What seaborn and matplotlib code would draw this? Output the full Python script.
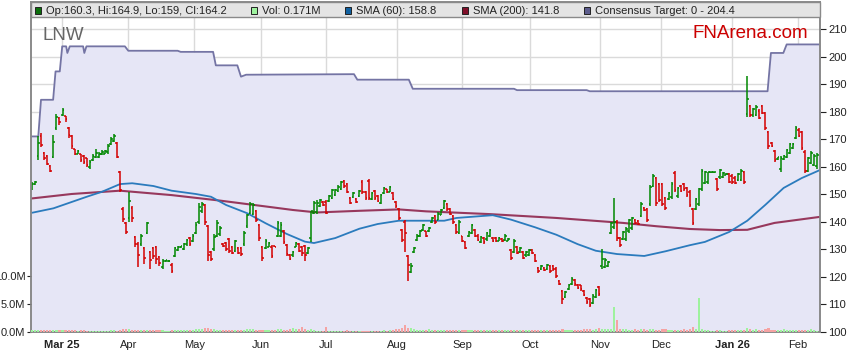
import numpy as np
import matplotlib
matplotlib.use("Agg")
import matplotlib.pyplot as plt
from matplotlib.patches import Rectangle
import seaborn as sns

# daily OHLC bars (price)
opens = [152.0, 153.6, 164.0, 171.0, 165.0, 163.8, 160.2, 163.5, 174.0, 177.8,
         178.8, 178.3, 174.0, 171.0, 166.3, 164.8, 164.5, 163.8, 163.0, 159.8,
         162.4, 163.5, 163.4, 164.5, 164.8, 165.2, 168.2, 169.5, 168.7, 158.0,
         144.8, 139.5, 141.5, 145.0, 134.5, 132.0, 132.0, 130.5, 136.0, 129.0,
         130.5, 131.0, 127.4, 123.5, 125.6, 125.7, 124.5, 127.5, 129.8, 130.7,
         130.2, 131.8, 134.0, 133.0, 136.0, 140.0, 143.8, 146.0, 138.5, 129.0,
         130.0, 135.0, 135.5, 132.0, 132.3, 133.8, 131.0, 129.5, 130.5, 130.6,
         131.8, 138.3, 143.3, 143.0, 144.0, 139.0, 131.0, 130.5, 131.0, 131.0,
         131.1, 135.0, 135.0, 136.8, 131.6, 128.0, 127.8, 131.0, 131.8, 131.0,
         131.2, 128.8, 134.0, 143.3, 143.5, 145.8, 147.2, 147.3, 147.5, 148.8,
         149.6, 151.2, 152.0, 154.8, 153.8, 148.7, 148.9, 148.3, 149.4, 154.5,
         150.8, 154.8, 148.2, 151.3, 149.3, 147.0, 150.5, 151.8, 151.0, 150.5,
         147.2, 144.8, 137.0, 140.0, 127.5, 121.8, 129.0, 133.3, 135.0, 137.0,
         136.5, 136.5, 139.8, 142.0, 140.8, 142.6, 145.0, 146.5, 144.8, 142.0,
         139.0, 136.0, 134.8, 132.8, 134.7, 136.0, 137.0, 135.0, 132.6, 134.0,
         133.6, 135.0, 134.3, 134.0, 133.2, 133.9, 133.3, 133.2, 129.8, 129.2,
         131.0, 129.0, 129.0, 127.8, 128.0, 129.8, 128.0, 123.2, 122.8, 123.4,
         122.8, 124.0, 124.0, 123.0, 118.5, 115.0, 112.8, 115.5, 117.6, 119.0,
         117.2, 117.0, 115.0, 112.5, 112.0, 110.5, 112.8, 116.5, 124.0, 123.6,
         124.0, 136.0, 138.0, 139.8, 134.3, 133.8, 133.8, 136.5, 137.6, 140.8,
         140.3, 142.2, 145.1, 144.8, 146.5, 153.0, 155.8, 153.6, 153.6, 148.6,
         148.4, 149.0, 157.8, 149.2, 153.0, 153.8, 152.3, 151.0, 144.6, 144.8,
         146.5, 152.0, 154.2, 154.3, 158.0, 158.0, 155.6, 156.2, 156.3, 157.0,
         157.4, 156.8, 156.0, 155.2, 155.3, 158.0, 179.0, 182.0, 178.6, 178.8,
         180.4, 182.0, 179.6, 172.5, 168.7, 165.8, 162.8, 159.0, 162.9, 163.5,
         165.0, 166.9, 170.4, 173.5, 172.5, 165.5, 158.6, 161.3, 160.6, 160.3]
highs = [154.4, 154.8, 171.1, 172.1, 165.4, 164.2, 160.5, 171.5, 179.1, 178.1,
         181.4, 178.5, 174.5, 171.5, 166.6, 166.0, 164.8, 164.2, 163.3, 162.3,
         164.8, 166.6, 165.4, 166.0, 166.0, 168.4, 170.8, 171.8, 169.0, 158.5,
         145.3, 139.9, 150.8, 145.6, 135.0, 132.6, 135.6, 131.0, 139.9, 129.5,
         130.8, 131.4, 127.7, 126.5, 126.2, 126.2, 124.9, 131.0, 131.4, 131.4,
         132.2, 133.8, 134.4, 135.6, 139.9, 146.8, 147.2, 146.6, 139.0, 129.5,
         135.4, 140.5, 138.3, 132.2, 132.6, 134.2, 131.4, 133.4, 130.8, 131.0,
         136.6, 142.9, 147.2, 146.8, 144.4, 139.3, 131.4, 133.8, 132.6, 131.7,
         131.2, 140.2, 139.9, 137.1, 132.0, 128.3, 129.5, 132.6, 132.2, 131.4,
         131.7, 130.8, 144.1, 147.5, 147.8, 148.4, 147.5, 147.8, 149.6, 152.0,
         152.0, 153.2, 154.8, 155.1, 154.1, 149.0, 150.8, 148.6, 151.7, 155.1,
         151.2, 155.7, 150.8, 151.7, 149.6, 150.2, 152.6, 152.0, 152.9, 150.8,
         147.5, 145.1, 137.4, 140.7, 128.1, 124.9, 131.0, 135.4, 137.1, 139.3,
         136.8, 138.0, 141.7, 142.3, 143.5, 144.7, 148.0, 146.8, 145.1, 142.3,
         139.3, 140.7, 135.0, 133.0, 136.6, 139.3, 137.4, 135.4, 135.0, 134.4,
         136.2, 137.4, 134.6, 134.4, 134.4, 134.2, 135.4, 134.2, 130.1, 133.8,
         131.4, 131.0, 129.3, 129.5, 130.1, 130.1, 128.3, 123.5, 124.4, 123.7,
         124.7, 124.4, 124.4, 123.5, 118.8, 115.2, 115.0, 117.6, 119.8, 119.2,
         117.4, 117.2, 115.2, 112.8, 112.5, 113.7, 115.6, 116.8, 130.1, 126.9,
         125.7, 139.9, 148.7, 140.5, 134.6, 136.8, 138.0, 141.1, 141.9, 141.1,
         140.7, 147.2, 145.3, 145.1, 153.2, 157.2, 156.3, 154.1, 154.1, 149.0,
         150.8, 154.4, 158.5, 152.6, 153.2, 154.1, 152.6, 151.4, 145.1, 148.7,
         152.4, 159.3, 158.5, 158.1, 158.2, 158.2, 156.0, 159.3, 158.1, 157.7,
         157.7, 157.2, 156.5, 157.7, 159.3, 158.5, 193.0, 182.4, 181.5, 182.4,
         180.8, 182.4, 180.0, 173.0, 169.0, 166.2, 163.6, 163.8, 164.2, 166.6,
         168.7, 168.7, 174.7, 173.9, 173.0, 166.0, 163.6, 165.7, 164.8, 164.9]
lows = [151.4, 153.2, 162.3, 167.2, 162.3, 160.5, 158.1, 163.0, 173.5, 175.1,
        178.4, 176.3, 170.5, 166.6, 164.2, 164.5, 161.7, 161.1, 159.9, 159.1,
        162.1, 163.0, 163.0, 164.2, 164.5, 164.8, 167.8, 169.0, 163.0, 150.8,
        139.9, 135.6, 139.9, 139.9, 130.8, 123.5, 131.4, 124.7, 135.6, 122.9,
        126.5, 124.7, 124.1, 122.9, 125.4, 125.4, 121.6, 127.1, 129.5, 130.5,
        129.8, 131.4, 131.4, 132.6, 135.6, 139.3, 143.2, 139.0, 125.7, 125.9,
        129.5, 134.4, 135.0, 131.0, 129.5, 128.6, 128.3, 128.9, 128.3, 127.7,
        131.4, 137.8, 142.9, 142.3, 139.9, 133.2, 125.9, 130.1, 130.8, 126.9,
        130.8, 134.4, 134.4, 132.0, 127.7, 126.1, 127.4, 130.8, 128.9, 127.7,
        125.7, 128.3, 132.6, 142.9, 142.9, 145.3, 145.6, 142.7, 147.2, 148.4,
        149.2, 150.8, 151.7, 152.4, 150.4, 146.6, 148.6, 146.8, 149.0, 150.2,
        148.0, 147.8, 147.8, 148.0, 147.2, 146.6, 150.2, 150.4, 150.7, 147.8,
        145.1, 140.7, 132.6, 128.9, 118.6, 121.3, 128.6, 132.9, 134.6, 136.6,
        134.6, 136.2, 139.5, 139.3, 140.5, 142.3, 144.7, 144.1, 142.3, 139.3,
        135.6, 135.4, 132.6, 130.1, 134.4, 135.6, 134.4, 132.9, 132.2, 132.0,
        133.2, 134.6, 132.6, 132.6, 132.9, 132.6, 132.9, 132.9, 126.1, 128.6,
        128.3, 128.6, 126.5, 127.4, 127.7, 128.3, 125.3, 121.6, 122.5, 122.0,
        122.5, 121.6, 122.3, 119.6, 117.2, 110.1, 112.5, 115.2, 117.2, 116.8,
        115.6, 115.0, 113.1, 110.1, 109.1, 110.1, 112.5, 113.1, 122.9, 123.2,
        123.5, 135.4, 137.4, 133.2, 131.0, 133.4, 133.2, 135.9, 137.1, 139.3,
        138.7, 141.7, 144.1, 139.9, 145.9, 152.6, 145.9, 147.2, 145.9, 144.4,
        148.0, 148.4, 150.8, 148.7, 150.8, 151.2, 149.0, 145.3, 138.7, 144.4,
        145.9, 151.2, 153.8, 153.8, 157.9, 157.9, 151.2, 155.7, 156.0, 156.9,
        154.1, 153.8, 153.8, 154.8, 154.8, 153.8, 178.1, 178.1, 178.1, 178.4,
        177.2, 179.1, 173.5, 166.6, 167.0, 161.7, 162.6, 158.1, 162.6, 163.0,
        164.5, 166.6, 169.9, 170.8, 166.2, 157.7, 158.1, 160.9, 160.2, 159.0]
closes = [153.9, 154.5, 168.7, 168.0, 163.0, 161.0, 158.6, 169.0, 178.0, 176.2,
          180.5, 177.5, 171.5, 167.5, 164.6, 165.8, 162.3, 161.6, 160.5, 161.8,
          164.0, 165.0, 164.8, 165.5, 165.7, 167.5, 170.0, 171.0, 163.5, 151.5,
          141.0, 136.3, 147.5, 141.5, 131.8, 128.0, 135.0, 127.0, 139.5, 126.0,
          127.5, 126.5, 125.0, 125.8, 126.0, 125.9, 122.2, 130.5, 131.0, 131.2,
          131.8, 133.4, 132.0, 135.0, 139.0, 145.5, 146.5, 140.0, 128.0, 126.5,
          134.5, 139.5, 137.8, 131.3, 130.0, 129.3, 128.8, 133.0, 128.8, 128.3,
          136.0, 142.3, 146.5, 146.2, 140.5, 134.0, 126.8, 133.2, 132.2, 127.5,
          130.9, 139.5, 139.0, 132.5, 128.3, 126.6, 129.0, 132.3, 129.5, 128.5,
          128.0, 130.4, 143.8, 146.8, 147.0, 148.0, 146.0, 143.3, 149.2, 151.5,
          151.6, 152.8, 154.3, 153.0, 151.0, 147.0, 150.4, 147.2, 151.2, 150.8,
          148.5, 148.8, 150.3, 148.6, 147.6, 149.8, 152.2, 150.8, 152.5, 148.3,
          145.6, 141.5, 133.5, 136.0, 124.5, 124.0, 130.6, 135.0, 136.8, 139.0,
          135.0, 137.7, 141.3, 139.8, 143.0, 144.3, 147.5, 144.5, 142.8, 139.8,
          136.2, 140.0, 133.0, 130.6, 136.3, 138.8, 134.8, 133.3, 134.6, 132.5,
          135.8, 137.0, 133.0, 133.0, 134.0, 133.0, 135.0, 133.9, 126.8, 133.2,
          128.8, 130.6, 127.0, 129.2, 129.8, 128.7, 125.8, 122.0, 124.0, 122.4,
          124.3, 122.2, 122.8, 120.2, 117.6, 112.0, 114.5, 117.2, 119.2, 117.3,
          116.0, 115.5, 113.6, 110.8, 109.8, 113.2, 115.2, 113.8, 126.5, 126.0,
          125.3, 139.5, 140.0, 134.0, 131.6, 136.3, 137.5, 140.6, 141.4, 139.6,
          139.1, 146.5, 144.4, 140.5, 152.5, 156.6, 146.8, 148.0, 146.5, 145.0,
          150.4, 153.8, 151.5, 152.2, 151.2, 151.8, 149.6, 146.0, 139.5, 148.2,
          151.8, 158.5, 158.0, 158.1, 158.1, 158.1, 152.0, 158.8, 157.8, 157.5,
          154.6, 154.3, 154.2, 157.3, 158.5, 154.5, 184.5, 178.8, 181.0, 181.8,
          177.8, 179.6, 174.0, 167.5, 167.4, 162.4, 163.4, 163.0, 163.9, 166.0,
          168.2, 168.4, 174.0, 171.3, 166.8, 158.5, 163.0, 165.0, 164.0, 164.2]

# daily volume, millions
volume_m = [0.4, 0.3, 0.3, 0.3, 0.3, 0.3, 0.3, 0.4, 0.3, 0.3, 0.3, 0.4, 0.4, 0.3, 0.3, 0.2, 0.3, 0.3, 0.2, 0.2,
            0.2, 0.2, 0.2, 0.2, 0.2, 0.2, 0.3, 0.3, 0.2, 0.3, 0.6, 0.5, 0.6, 0.4, 0.3, 0.4, 0.3, 0.3, 0.3, 0.3,
            0.3, 0.3, 0.3, 0.3, 0.2, 0.2, 0.4, 0.3, 0.3, 0.3, 0.3, 0.4, 0.3, 0.3, 0.5, 0.5, 0.6, 0.7, 0.8, 0.5,
            0.5, 0.4, 0.4, 0.3, 0.3, 0.3, 0.3, 0.4, 0.4, 0.4, 0.4, 0.5, 0.5, 0.5, 0.4, 0.4, 0.4, 0.3, 0.3, 0.4,
            0.4, 0.5, 0.5, 0.4, 0.4, 0.6, 0.7, 0.5, 0.6, 0.9, 0.5, 0.4, 0.6, 0.3, 0.2, 0.2, 0.2, 0.9, 0.2, 0.2,
            0.2, 0.2, 0.2, 0.2, 0.3, 0.2, 0.2, 0.2, 0.2, 0.2, 0.2, 0.2, 0.2, 0.2, 0.2, 0.2, 0.3, 0.2, 0.3, 0.4,
            0.5, 0.6, 0.8, 1.2, 0.8, 0.8, 0.5, 0.4, 0.3, 0.3, 0.4, 0.5, 0.4, 0.3, 0.3, 0.3, 0.4, 0.3, 0.3, 0.3,
            0.3, 0.4, 0.3, 0.3, 0.4, 0.3, 0.3, 0.3, 0.3, 0.3, 0.3, 0.4, 0.3, 0.3, 0.3, 0.3, 0.3, 0.3, 0.3, 0.3,
            0.3, 0.3, 0.3, 0.3, 0.3, 0.3, 0.4, 0.3, 0.3, 0.3, 0.3, 0.3, 0.3, 0.4, 0.3, 0.5, 0.3, 0.3, 0.4, 0.3,
            0.4, 0.4, 0.5, 0.5, 0.5, 0.4, 0.5, 0.7, 0.5, 0.6, 0.6, 0.6, 4.5, 2.2, 0.6, 0.5, 0.5, 0.4, 0.4, 0.5,
            0.4, 0.6, 0.5, 0.4, 0.5, 0.5, 0.4, 0.4, 0.5, 0.5, 0.4, 0.4, 0.3, 0.4, 0.4, 0.5, 0.4, 0.6, 0.9, 0.5,
            6.1, 0.5, 0.4, 0.3, 0.2, 0.2, 0.4, 0.3, 0.2, 0.2, 0.3, 0.3, 0.3, 0.3, 0.4, 0.4, 0.7, 0.5, 0.4, 0.6,
            0.4, 0.4, 0.5, 0.7, 0.4, 0.3, 0.4, 0.3, 0.5, 0.3, 0.3, 0.3, 0.4, 0.4, 0.4, 0.3, 0.3, 0.6, 0.3, 0.171]

# moving averages (bar index, value)
sma60_idx = [0, 7, 18, 23, 29, 33, 40, 46, 54, 59, 64, 71, 77, 84, 90, 93, 100, 108, 114, 121,
             136, 140, 152, 158, 166, 173, 180, 186, 193, 202, 209, 217, 222, 230, 236, 242, 248, 254, 260]
sma60 = [143.3, 144.9, 149.1, 150.9, 153.7, 154.0, 153.0, 151.3, 150.1, 149.1, 146.1, 143.1, 139.5, 135.6,
         132.8, 132.3, 134.1, 137.5, 139.2, 140.4, 140.4, 141.4, 142.4, 140.8, 138.0, 135.3, 131.9, 129.5,
         128.3, 127.6, 129.3, 131.5, 132.7, 136.3, 140.4, 146.2, 152.3, 155.9, 158.8]
sma200_idx = [0, 13, 29, 46, 62, 79, 86, 94, 108, 121, 130, 151, 173, 195, 206, 217, 227, 236, 245, 260]
sma200 = [148.5, 150.1, 151.3, 149.7, 147.7, 145.3, 144.3, 143.4, 144.0, 144.5, 143.8, 142.8, 141.4, 139.6,
          138.4, 137.4, 137.0, 137.1, 139.6, 141.8]

# consensus target (step line)
target_idx = [-0.4, 2.0, 2.9, 6.9, 7.7, 9.1, 9.9, 11.2, 11.6, 12.4, 16.8, 17.2, 17.9, 30.6, 31.7,
              48.0, 49.0, 59.7, 60.6, 67.7, 68.9, 70.6, 106.2, 107.3, 124.3, 125.6, 159.0, 160.0,
              183.0, 184.0, 242.7, 243.8, 247.9, 249.0, 260.0]
target = [171.0, 171.0, 184.3, 184.3, 194.6, 194.6, 203.7, 203.7, 201.3, 203.7, 203.7, 201.3, 203.7,
          203.7, 202.1, 202.1, 201.7, 201.7, 196.8, 196.8, 192.7, 193.4, 193.6, 191.6, 191.6, 188.3,
          188.3, 187.8, 187.8, 187.4, 187.4, 201.3, 201.3, 204.4, 204.4]

month_idx = [9.9, 31.7, 53.5, 75.6, 97.0, 120.5, 141.9, 164.4, 187.5, 207.6, 231.0, 252.8]
month_labels = ["Mar 25", "Apr", "May", "Jun", "Jul", "Aug", "Sep", "Oct", "Nov", "Dec", "Jan 26", "Feb"]
price_ticks = [100, 110, 120, 130, 140, 150, 160, 170, 180, 190, 200, 210]
vol_ticks = [0, 5, 10]

sns.set_style("white")
plt.rcParams["font.family"] = ["Liberation Sans", "DejaVu Sans"]

W, H = 859, 363
fig = plt.figure(figsize=(W / 100, H / 100), dpi=100)
ax = fig.add_axes([31 / W, 1 - 332 / H, 789 / W, 330 / H])
ax.set_xlim(-0.4, 260)
ax.set_ylim(100, 219.8)
ax.set_axisbelow(True)

# target area + line
ax.fill_between(target_idx, target, 100, color="#e6e6f6", lw=0, zorder=1)
sns.lineplot(x=target_idx, y=target, ax=ax, color="#7474a4", linewidth=1.3,
             estimator=None, sort=False, legend=False, zorder=2)

# moving averages
sns.lineplot(x=sma200_idx, y=sma200, ax=ax, color="#8a1a42", linewidth=1.5, alpha=0.85,
             estimator=None, legend=False, zorder=3)
sns.lineplot(x=sma60_idx, y=sma60, ax=ax, color="#2b7bbd", linewidth=1.3,
             estimator=None, legend=False, zorder=3)

# OHLC bars
idx = np.arange(len(closes))
o = np.array(opens)
c = np.array(closes)
up = c >= o
cols = np.where(up, "#008800", "#d40000")
ax.vlines(idx, lows, highs, colors=cols, lw=1.1, zorder=4)
ax.hlines(o, idx - 0.55, idx, colors=cols, lw=1.1, zorder=4)
ax.hlines(c, idx, idx + 0.55, colors=cols, lw=1.1, zorder=4)

# volume on its own scale
axv = ax.twinx()
axv.set_ylim(0, 58.9)
vcols = np.where(up, "#9ef29e", "#f5a3a3")
axv.bar(idx, volume_m, width=0.7, color=vcols, lw=0, zorder=3)

ax.yaxis.tick_right()
axv.yaxis.tick_left()

ax.set_xticks(month_idx)
ax.set_xticklabels(month_labels)
ax.set_yticks(price_ticks)
ax.set_yticklabels([str(t) for t in price_ticks])
ax.grid(True, color="#dadada", lw=1.0)
ax.tick_params(axis="x", length=3, labelsize=8, pad=3, colors="#222222")
ax.tick_params(axis="y", right=True, left=False, labelright=True, labelleft=False,
               length=4, labelsize=8, pad=2, colors="#222222")
for lab in ax.get_xticklabels():
    if lab.get_text() in ("Mar 25", "Jan 26"):
        lab.set_fontweight("bold")

axv.set_yticks(vol_ticks)
axv.set_yticklabels([f"{v:.1f}M" for v in vol_ticks])
axv.tick_params(axis="y", left=True, right=False, labelleft=True, labelright=False,
                length=3, labelsize=8, pad=1, colors="#222222")

for a in (ax, axv):
    for s in a.spines.values():
        s.set_color("#8a8a8a")
        s.set_linewidth(1.2)

# header strip with legend entries
fig.add_artist(Rectangle((31 / W, 1 - 17 / H), 789 / W, 15 / H, transform=fig.transFigure,
                         facecolor="#e4e4e4", edgecolor="#8a8a8a", lw=1.0))
legend_items = [
    ("#0b6e0b", f"Op:{opens[-1]}, Hi:{highs[-1]}, Lo:{lows[-1]:g}, Cl:{closes[-1]}", 35),
    ("#9ef29e", f"Vol: {volume_m[-1]}M", 251),
    ("#1060a0", f"SMA (60): {sma60[-1]}", 345),
    ("#80102a", f"SMA (200): {sma200[-1]}", 462),
    ("#5c5c8c", f"Consensus Target: 0 - {target[-1]}", 584),
]
for colr, txt, px in legend_items:
    fig.add_artist(Rectangle((px / W, 1 - 14 / H), 6 / W, 7 / H, transform=fig.transFigure,
                             facecolor=colr, edgecolor="#222222", lw=0.7))
    fig.text((px + 11) / W, 1 - 10.5 / H, txt, fontsize=8, color="#222222", va="center")

fig.text(42 / W, 1 - 35 / H, "LNW", fontsize=13.5, color="#666666", va="center")
fig.text(693 / W, 1 - 33 / H, "FNArena.com", fontsize=13.5, color="#cc0000", va="center")

fig.savefig("out.png", dpi=100)
